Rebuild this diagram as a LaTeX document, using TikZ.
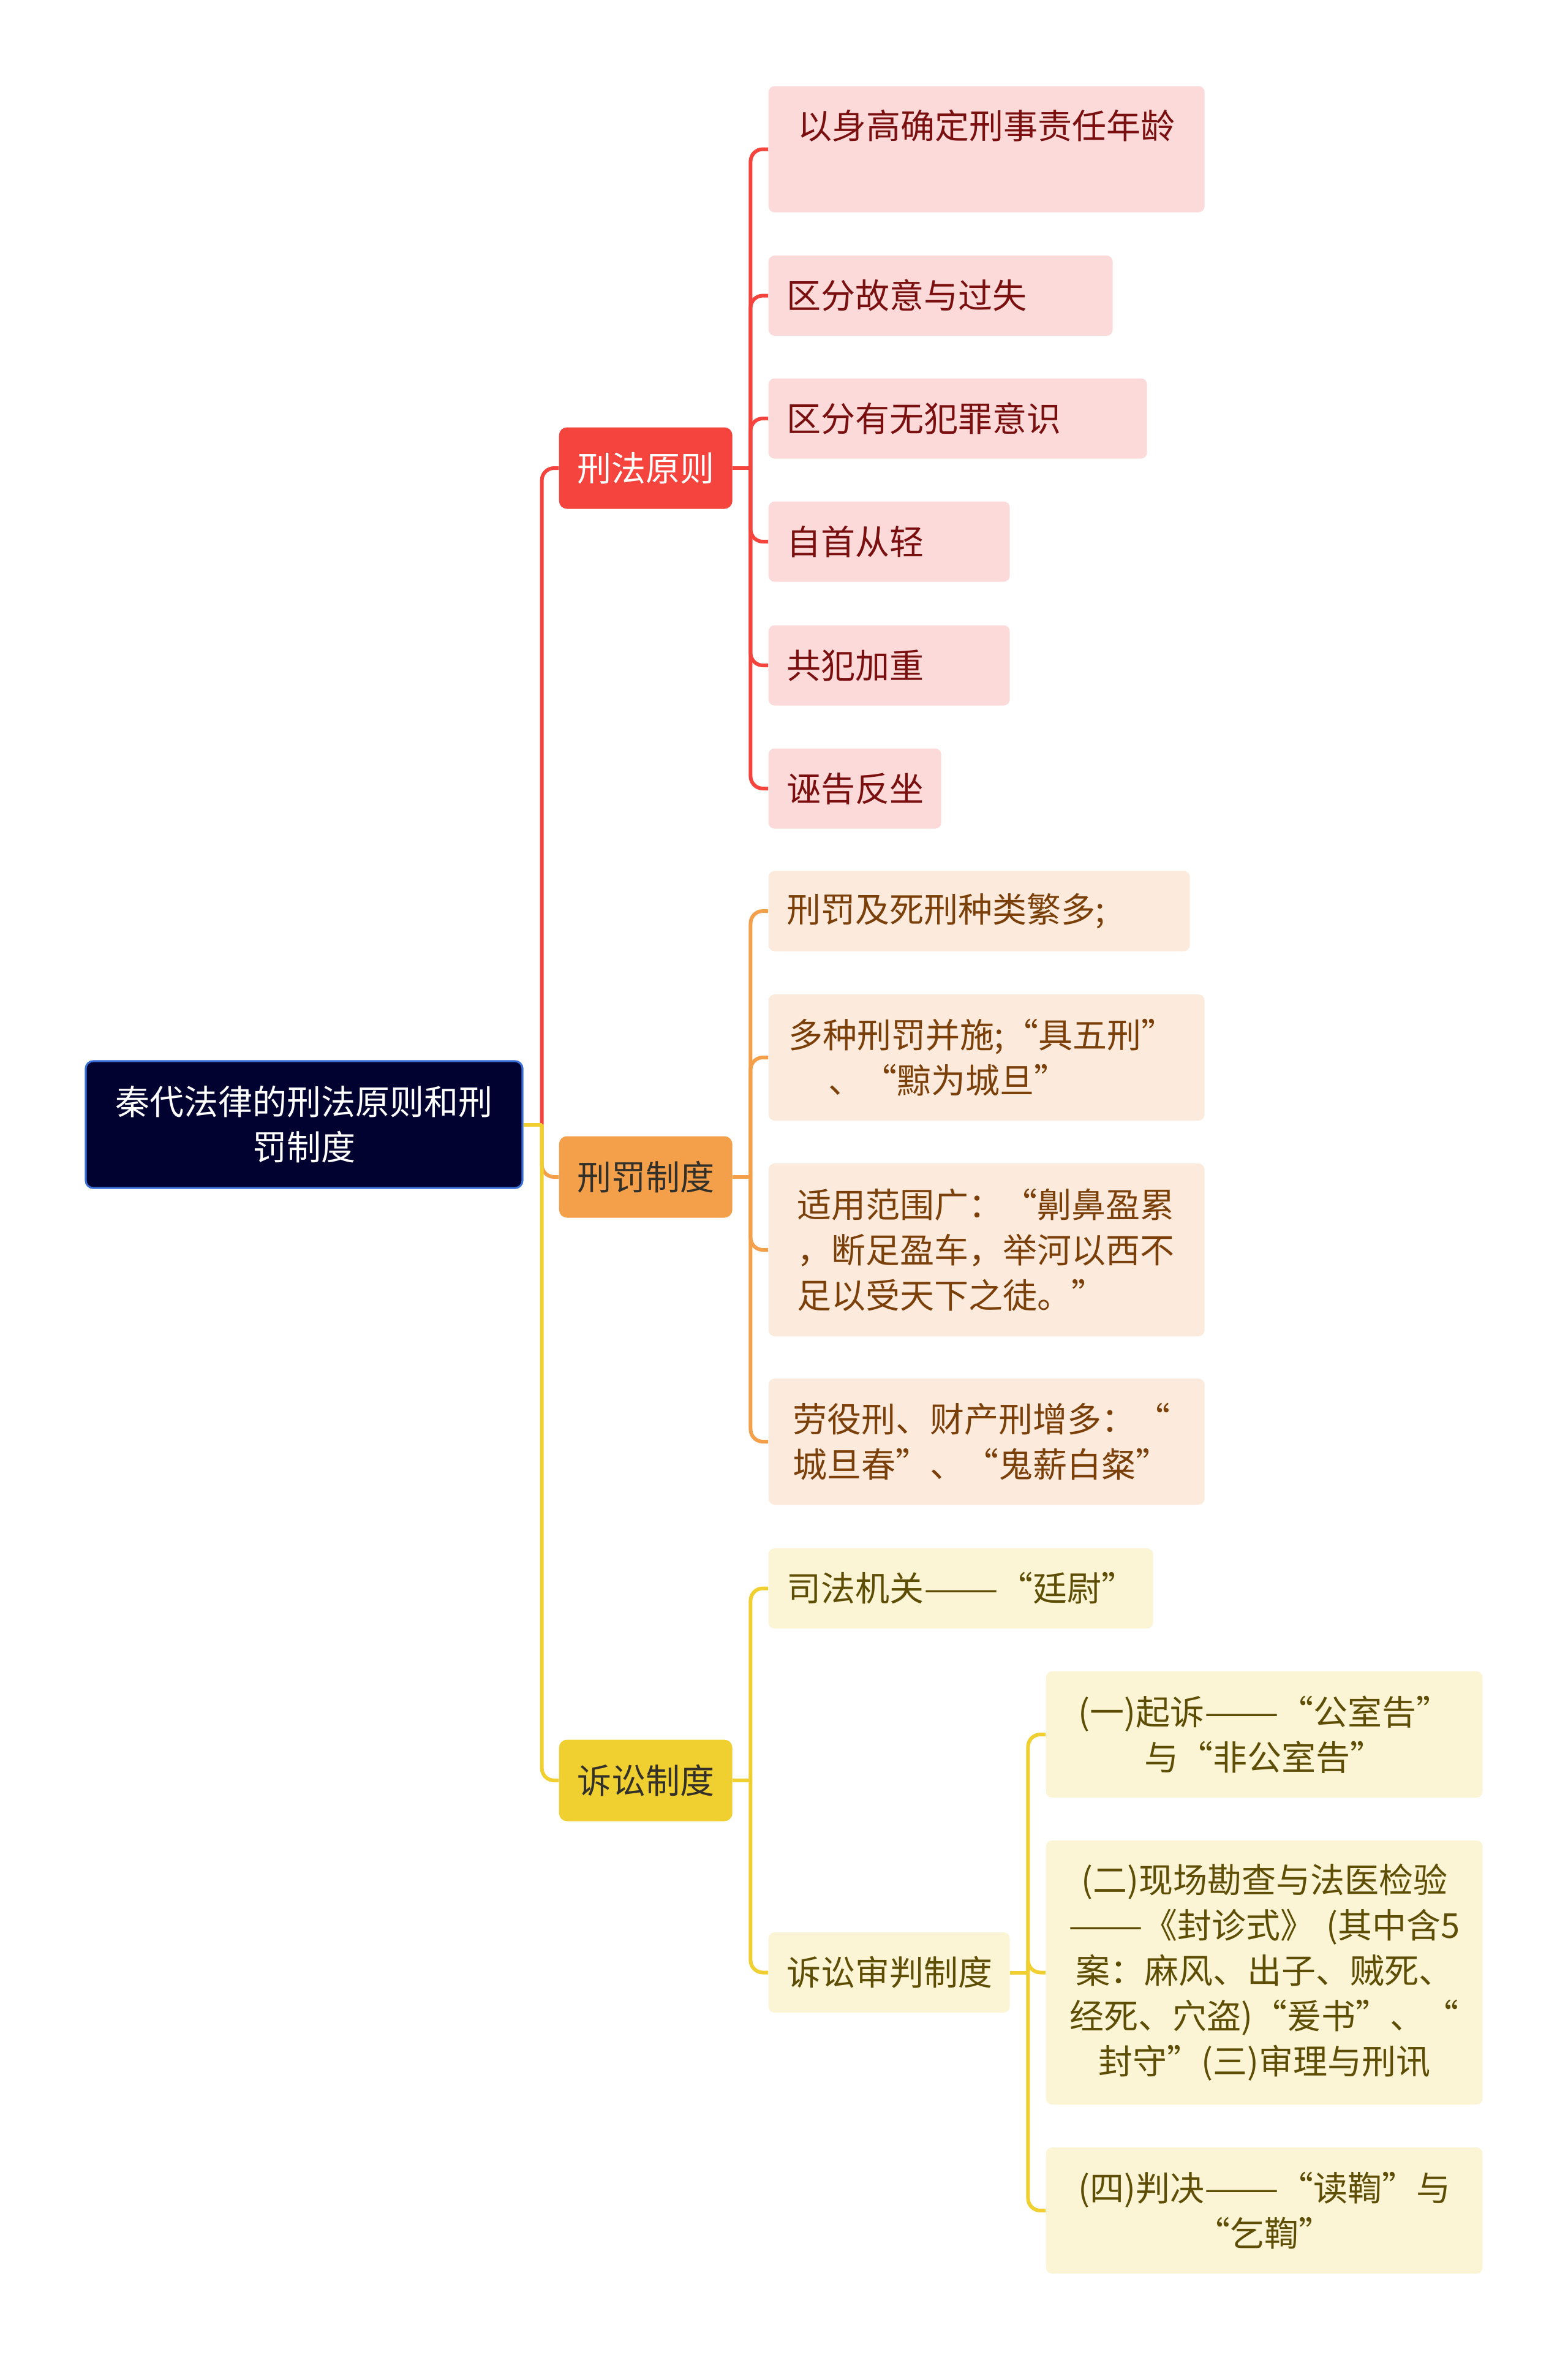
\documentclass[tikz,border=0pt]{standalone}
\usepackage{fontspec}
\setmainfont{Noto Sans CJK SC}
\usepackage{xcolor}
\usepackage{graphicx}
\usetikzlibrary{positioning}

\definecolor{navy}{HTML}{020230}
\definecolor{navyedge}{HTML}{3A6FD8}
\definecolor{redmain}{HTML}{F5443E}
\definecolor{orgmain}{HTML}{F4A04B}
\definecolor{ylwmain}{HTML}{F0D030}
\definecolor{redsub}{HTML}{FDDADA}
\definecolor{orgsub}{HTML}{FCEBDC}
\definecolor{ylwsub}{HTML}{FCF5D5}
\definecolor{redtxt}{HTML}{7A0F0F}
\definecolor{orgtxt}{HTML}{7B3F0A}
\definecolor{ylwtxt}{HTML}{5E4E05}
\definecolor{darktxt}{HTML}{33302A}
\newcommand\longdash{\scalebox{1.3}[1]{——}}

\begin{document}
\begin{tikzpicture}[
  font=\fontsize{15.94pt}{21.05pt}\selectfont,
  root/.style={draw=navyedge, line width=0.9pt, fill=navy, text=white, rounded corners=0.12cm, align=center, text width=6.5cm, inner xsep=0.315cm, inner ysep=0pt, minimum height=2.07cm},
  topic/.style={anchor=west, rounded corners=0.13cm, minimum width=2.83cm, minimum height=1.33cm, inner sep=0pt},
  leaf/.style={anchor=west, rounded corners=0.1cm, align=left, inner xsep=0.3cm, inner ysep=0pt},
  wide/.style={text width=6.5cm, inner xsep=0.315cm, align=center},
  wideleft/.style={text width=6.46cm, inner xsep=0.33cm, align=left},
  redleaf/.style={leaf, fill=redsub, text=redtxt},
  orgleaf/.style={leaf, fill=orgsub, text=orgtxt},
  ylwleaf/.style={leaf, fill=ylwsub, text=ylwtxt},
  one/.style={minimum height=1.31cm},
  two/.style={minimum height=2.06cm},
  three/.style={minimum height=2.82cm},
  five/.style={minimum height=4.31cm},
  conn/.style={line width=0.06cm, rounded corners=0.2cm}
]
\useasboundingbox (0,0) rectangle (25.6,-38.52);

\node[root] (root) at (4.965,-18.355) {秦代法律的刑法原则和刑\\罚制度};

\node[topic, fill=redmain, text=white] (principle) at (9.12,-7.64) {刑法原则};
\node[topic, fill=orgmain, text=darktxt] (penalty) at (9.12,-19.21) {刑罚制度};
\node[topic, fill=ylwmain, text=darktxt] (lawsuit) at (9.12,-29.06) {诉讼制度};

\node[redleaf, wide, inner xsep=0.30cm, text width=6.52cm, two] (age) at (12.54,-2.435) {以身高确定刑事责任年龄\\[-0.14cm]\strut};
\node[redleaf, one, text width=5.02cm] (intent) at (12.54,-4.825) {区分故意与过失};
\node[redleaf, one, text width=5.58cm] (guilt) at (12.54,-6.83) {区分有无犯罪意识};
\node[redleaf, one, text width=3.34cm] (confess) at (12.54,-8.84) {自首从轻};
\node[redleaf, one, text width=3.34cm] (joint) at (12.54,-10.86) {共犯加重};
\node[redleaf, one, text width=2.22cm] (slander) at (12.54,-12.87) {诬告反坐};

\node[orgleaf, one, text width=6.28cm] (kinds) at (12.54,-14.87) {刑罚及死刑种类繁多;};
\node[orgleaf, wideleft, two] (combine) at (12.54,-17.26) {多种刑罚并施;“具五刑”\\\hspace*{1.15em}、“黥为城旦”};
\node[orgleaf, wideleft, inner xsep=0.47cm, text width=6.18cm, three] (scope) at (12.54,-20.40) {适用范围广：“劓鼻盈累\\，断足盈车，举河以西不\\足以受天下之徒。”};
\node[orgleaf, wideleft, inner xsep=0.4cm, text width=6.32cm, two] (labour) at (12.54,-23.53) {劳役刑、财产刑增多：“\\城旦春”、“鬼薪白粲”};

\node[ylwleaf, one, text width=5.68cm] (organ) at (12.54,-25.925) {司法机关\longdash“廷尉”};
\node[ylwleaf, one, text width=3.34cm] (trial) at (12.54,-32.195) {诉讼审判制度};

\node[ylwleaf, wide, two] (sue) at (17.07,-28.31) {(一)起诉\longdash“公室告”\\与“非公室告”};
\node[ylwleaf, wide, five] (inspect) at (17.07,-32.195) {(二)现场勘查与法医检验\\\longdash《封诊式》 (其中含5\\案：麻风、出子、贼死、\\经死、穴盗)“爰书”、“\\封守”(三)审理与刑讯};
\node[ylwleaf, wide, two] (verdict) at (17.07,-36.08) {(四)判决\longdash“读鞫”与\\“乞鞫”};

\coordinate[right=0.3cm of root] (hub);
\coordinate[right=0.29cm of principle] (prHub);
\coordinate[right=0.29cm of penalty] (peHub);
\coordinate[right=0.29cm of lawsuit] (laHub);
\coordinate[right=0.29cm of trial] (trHub);

\draw[conn, redmain] (hub) |- (principle.west);
\draw[conn, orgmain] (hub) |- (penalty.west);
\draw[conn, ylwmain] (hub) |- (lawsuit.west);
\draw[conn, ylwmain] (root.east) -- (hub);

\draw[conn, redmain] (principle.east) -- (prHub);
\foreach \n in {age, intent, guilt, confess, joint, slander}
  \draw[conn, redmain] (prHub) |- (\n.west);

\draw[conn, orgmain] (penalty.east) -- (peHub);
\foreach \n in {kinds, combine, scope, labour}
  \draw[conn, orgmain] (peHub) |- (\n.west);

\draw[conn, ylwmain] (lawsuit.east) -- (laHub);
\foreach \n in {organ, trial}
  \draw[conn, ylwmain] (laHub) |- (\n.west);

\draw[conn, ylwmain] (trial.east) -- (trHub);
\foreach \n in {sue, inspect, verdict}
  \draw[conn, ylwmain] (trHub) |- (\n.west);
\end{tikzpicture}
\end{document}
